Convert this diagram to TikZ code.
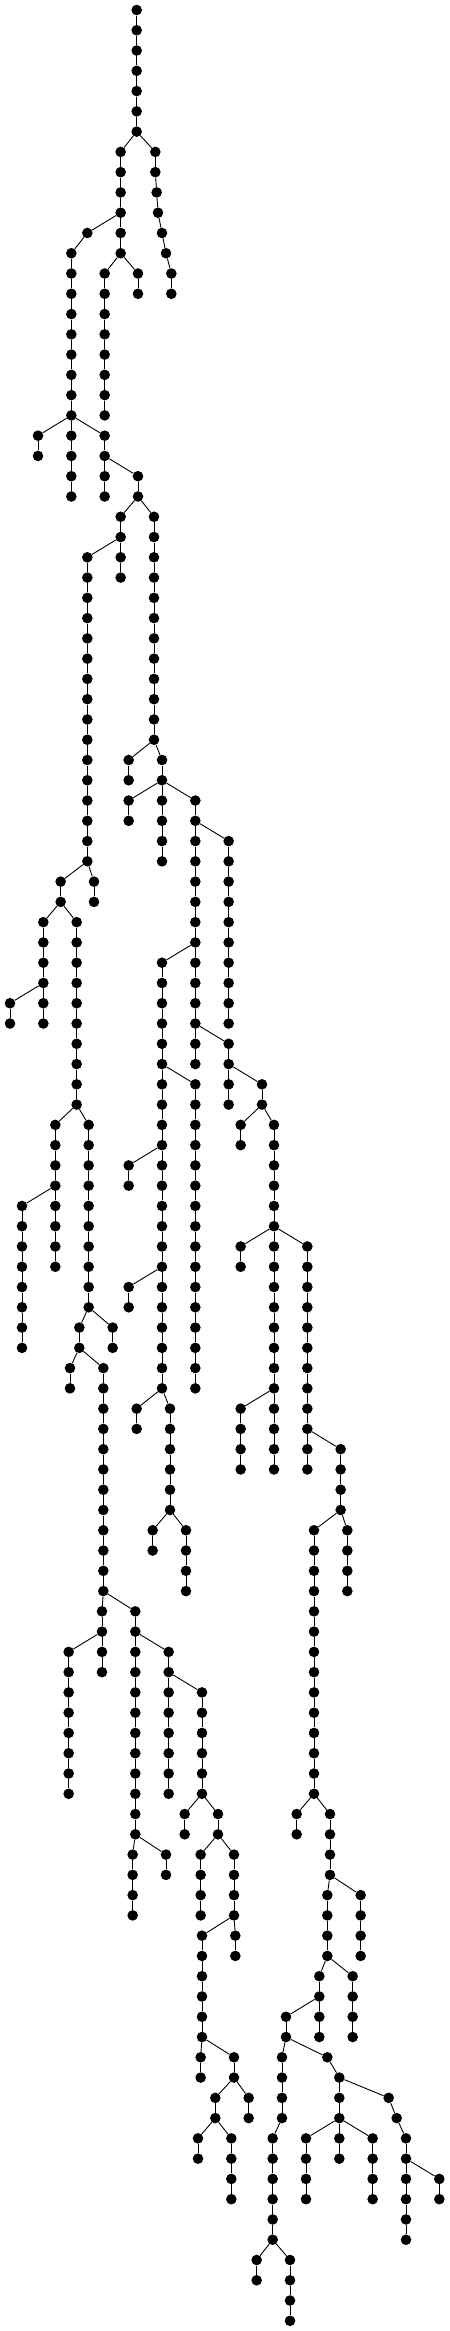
\documentclass[tikz,border=0pt]{standalone}
\tikzset{
  dot/.style={circle,fill=black,draw=none,inner sep=0pt,minimum size=10.6pt},
  edge/.style={draw=black,line width=0.9pt}
}
\newcommand\tchain[4]{%
  \foreach \l in {#3,...,#4}{\node[dot] (#1-\l) at (#2,\l) {};}%
  \pgfmathtruncatemacro\tmpnext{#3+1}%
  \foreach \l [remember=\l as \p (initially #3)] in {\tmpnext,...,#4}{\draw[edge] (#1-\p) -- (#1-\l);}%
}
\newcommand\lk[2]{\draw[edge] (#1) -- (#2);}
\begin{document}
\begin{tikzpicture}[x=0.33333pt,y=-20.27pt]
\useasboundingbox (0,-0.4933) rectangle (1350,114.504);
\tchain{C1}{410}{0}{6}
\tchain{C2}{362}{7}{12}
% slanted chain
\node[dot] (C3-7) at (466,7) {};
\node[dot] (C3-8) at (466,8) {};
\node[dot] (C3-9) at (470,9) {};
\node[dot] (C3-10) at (474,10) {};
\node[dot] (C3-11) at (486,11) {};
\node[dot] (C3-12) at (498,12) {};
\node[dot] (C3-13) at (514,13) {};
\node[dot] (C3-14) at (514,14) {};
\lk{C3-7}{C3-8}\lk{C3-8}{C3-9}\lk{C3-9}{C3-10}\lk{C3-10}{C3-11}
\lk{C3-11}{C3-12}\lk{C3-12}{C3-13}\lk{C3-13}{C3-14}
\node[dot] (C4-11) at (262,11) {};
\tchain{C5}{214}{12}{24}
\tchain{C6}{314}{13}{20}
\tchain{C7}{414}{13}{14}
\tchain{C8}{114}{21}{22}
\tchain{C9}{314}{21}{24}
\tchain{C10}{414}{23}{24}
\tchain{C11}{362}{25}{28}
\tchain{C12}{462}{25}{36}
\tchain{C13}{262}{27}{42}
\tchain{C14}{386}{37}{38}
\tchain{C15}{486}{37}{38}
\tchain{C16}{386}{39}{40}
\tchain{C17}{486}{39}{42}
\tchain{C18}{586}{39}{52}
\tchain{C19}{686}{41}{50}
\tchain{C20}{182}{43}{44}
\tchain{C21}{282}{43}{44}
\tchain{C22}{130}{45}{50}
\tchain{C23}{230}{45}{54}
\tchain{C24}{486}{47}{68}
\tchain{C25}{30}{49}{50}
\tchain{C26}{686}{51}{54}
\tchain{C27}{586}{53}{68}
\tchain{C28}{786}{53}{54}
\tchain{C29}{166}{55}{62}
\tchain{C30}{266}{55}{64}
\tchain{C31}{722}{55}{56}
\tchain{C32}{822}{55}{72}
\tchain{C33}{386}{57}{58}
\tchain{C34}{66}{59}{66}
\tchain{C35}{722}{61}{62}
\tchain{C36}{922}{61}{72}
\tchain{C37}{386}{63}{64}
\tchain{C38}{238}{65}{66}
\tchain{C39}{338}{65}{66}
\tchain{C40}{210}{67}{68}
\tchain{C41}{310}{67}{78}
\tchain{C42}{306}{79}{82}
\tchain{C43}{406}{79}{90}
\tchain{C44}{410}{69}{70}
\tchain{C45}{510}{69}{74}
\tchain{C46}{722}{69}{72}
\tchain{C47}{1022}{71}{74}
\tchain{C48}{458}{75}{76}
\tchain{C49}{558}{75}{78}
\tchain{C50}{942}{75}{88}
\tchain{C51}{1042}{75}{78}
\tchain{C52}{206}{81}{88}
\tchain{C53}{506}{81}{88}
\tchain{C54}{606}{83}{88}
\tchain{C55}{398}{91}{94}
\tchain{C56}{498}{91}{92}
\tchain{C57}{554}{89}{90}
\tchain{C58}{654}{89}{90}
\tchain{C59}{602}{91}{94}
\tchain{C60}{702}{91}{94}
\tchain{C61}{606}{95}{100}
\tchain{C62}{706}{95}{96}
\tchain{C63}{890}{89}{90}
\tchain{C64}{990}{89}{92}
\tchain{C65}{982}{93}{96}
\tchain{C66}{1082}{93}{96}
\tchain{C67}{602}{101}{102}
\tchain{C68}{702}{101}{102}
\tchain{C69}{646}{103}{104}
\tchain{C70}{746}{103}{104}
\tchain{C71}{594}{105}{106}
\tchain{C72}{694}{105}{108}
\tchain{C73}{958}{97}{100}
\tchain{C74}{1058}{97}{100}
\tchain{C75}{858}{99}{100}
\tchain{C76}{846}{101}{104}
\node[dot] (C77-101) at (982,101) {};
\tchain{C78}{1018}{102}{106}
\node[dot] (C79-103) at (1166,103) {};
\node[dot] (C79-104) at (1190,104) {};
\tchain{C80}{1218}{105}{110}
\tchain{C81}{818}{105}{110}
\tchain{C82}{918}{105}{108}
\tchain{C83}{1118}{105}{108}
\tchain{C84}{1318}{107}{108}
\tchain{C85}{770}{111}{112}
\tchain{C86}{870}{111}{114}
% branch edges
\lk{C1-6}{C2-7}\lk{C1-6}{C3-7}
\lk{C2-10}{C4-11}\lk{C4-11}{C5-12}
\lk{C2-12}{C6-13}\lk{C2-12}{C7-13}
\lk{C5-20}{C8-21}\lk{C5-20}{C9-21}
\lk{C9-22}{C10-23}
\lk{C10-24}{C11-25}\lk{C10-24}{C12-25}
\lk{C11-26}{C13-27}
\lk{C12-36}{C14-37}\lk{C12-36}{C15-37}
\lk{C15-38}{C16-39}\lk{C15-38}{C17-39}\lk{C15-38}{C18-39}
\lk{C18-40}{C19-41}
\lk{C13-42}{C20-43}\lk{C13-42}{C21-43}
\lk{C20-44}{C22-45}\lk{C20-44}{C23-45}
\lk{C18-46}{C24-47}
\lk{C22-48}{C25-49}
\lk{C18-50}{C26-51}
\lk{C24-52}{C27-53}
\lk{C26-52}{C28-53}
\lk{C23-54}{C29-55}\lk{C23-54}{C30-55}
\lk{C28-54}{C31-55}\lk{C28-54}{C32-55}
\lk{C24-56}{C33-57}
\lk{C29-58}{C34-59}
\lk{C32-60}{C35-61}\lk{C32-60}{C36-61}
\lk{C24-62}{C37-63}
\lk{C30-64}{C38-65}\lk{C30-64}{C39-65}
\lk{C38-66}{C40-67}\lk{C38-66}{C41-67}
\lk{C41-78}{C42-79}\lk{C41-78}{C43-79}
\lk{C24-68}{C44-69}\lk{C24-68}{C45-69}
\lk{C32-68}{C46-69}
\lk{C36-70}{C47-71}
\lk{C45-74}{C48-75}\lk{C45-74}{C49-75}
\lk{C47-74}{C50-75}\lk{C47-74}{C51-75}
\lk{C42-80}{C52-81}
\lk{C43-80}{C53-81}
\lk{C53-82}{C54-83}
\lk{C43-90}{C55-91}\lk{C43-90}{C56-91}
\lk{C54-88}{C57-89}\lk{C54-88}{C58-89}
\lk{C58-90}{C59-91}\lk{C58-90}{C60-91}
\lk{C60-94}{C61-95}\lk{C60-94}{C62-95}
\lk{C50-88}{C63-89}\lk{C50-88}{C64-89}
\lk{C64-92}{C65-93}\lk{C64-92}{C66-93}
\lk{C61-100}{C67-101}\lk{C61-100}{C68-101}
\lk{C68-102}{C69-103}\lk{C68-102}{C70-103}
\lk{C69-104}{C71-105}\lk{C69-104}{C72-105}
\lk{C65-96}{C73-97}\lk{C65-96}{C74-97}
\lk{C73-98}{C75-99}
\lk{C75-100}{C76-101}\lk{C75-100}{C77-101}
\lk{C77-101}{C78-102}
\lk{C78-102}{C79-103}\lk{C79-103}{C79-104}\lk{C79-104}{C80-105}
\lk{C76-104}{C81-105}
\lk{C78-104}{C82-105}\lk{C78-104}{C83-105}
\lk{C80-106}{C84-107}
\lk{C81-110}{C85-111}\lk{C81-110}{C86-111}
\end{tikzpicture}
\end{document}
